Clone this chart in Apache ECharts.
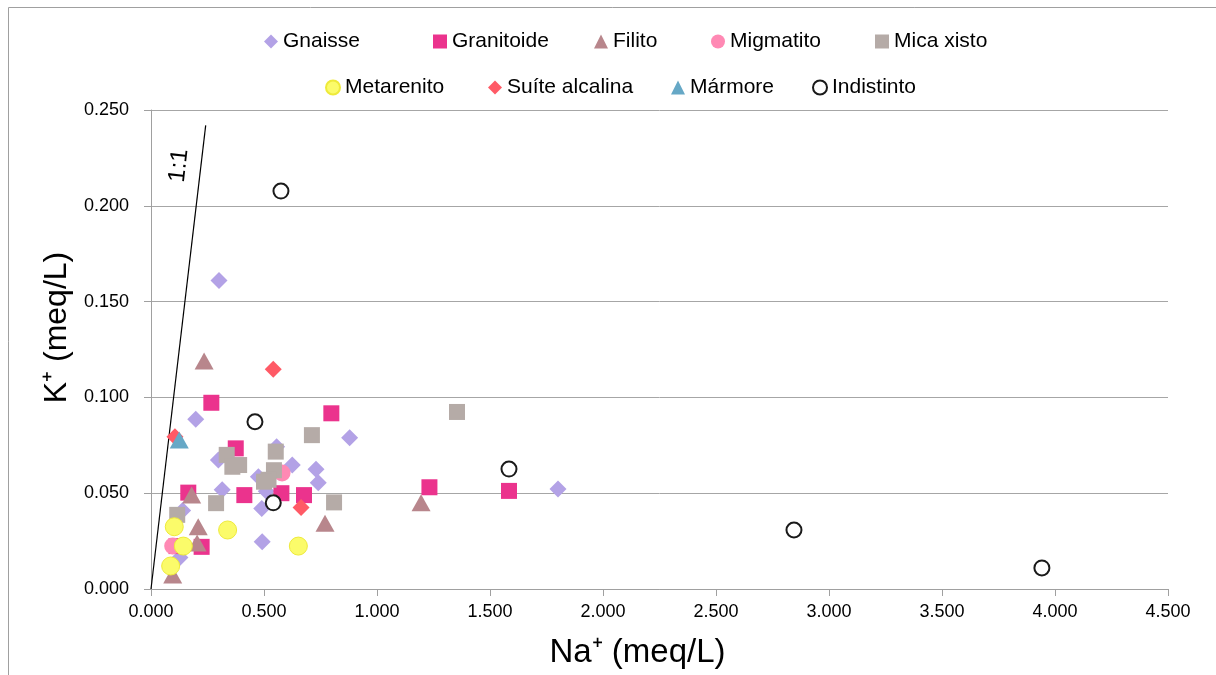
<!DOCTYPE html>
<html>
<head>
<meta charset="utf-8">
<script src="https://cdn.jsdelivr.net/npm/echarts@6/dist/echarts.min.js"></script>
<style>html,body{margin:0;padding:0;background:#fff;}#c{width:1216px;height:675px;}</style>
</head>
<body>
<div id="c"></div>
<script>
// ---- data (Na+ meq/L, K+ meq/L) ----
const seriesNames = ['Gnaisse','Granitoide','Filito','Migmatito','Mica xisto','Metarenito','Suíte alcalina','Mármore','Indistinto'];
const gnaisse = [[0.301,0.161],[0.198,0.0886],[0.879,0.079],[0.556,0.0743],[0.298,0.0673],[0.625,0.0647],[0.730,0.0625],[0.740,0.0555],[0.475,0.0586],[0.315,0.0518],[0.510,0.051],[0.490,0.042],[0.140,0.041],[0.492,0.0247],[0.128,0.0165],[1.801,0.0522]];
const granitoide = [[0.267,0.0972],[0.798,0.0917],[0.375,0.0734],[0.165,0.0503],[0.413,0.049],[0.577,0.050],[0.677,0.049],[0.113,0.0224],[0.224,0.022],[1.232,0.0531],[1.584,0.0512]];
const filito = [[0.235,0.119],[0.180,0.049],[0.209,0.0325],[0.204,0.024],[0.096,0.0073],[0.770,0.0343],[1.195,0.045]];
const migmatito = [[0.096,0.0224],[0.580,0.0606]];
const micaXisto = [[1.354,0.0924],[0.712,0.0803],[0.552,0.0717],[0.335,0.070],[0.390,0.0647],[0.360,0.0638],[0.544,0.062],[0.520,0.057],[0.500,0.056],[0.810,0.0452],[0.288,0.0448],[0.116,0.0387]];
const metarenito = [[0.103,0.0325],[0.339,0.0308],[0.143,0.0224],[0.087,0.012],[0.652,0.0224]];
const suiteAlcalina = [[0.541,0.1147],[0.106,0.0795],[0.664,0.0426]];
const marmore = [[0.125,0.0778]];
const indistinto = [[0.575,0.2077],[0.460,0.0873],[0.541,0.045],[1.584,0.0626],[2.845,0.0308],[3.942,0.011]];
const lineOneToOne = [[0,0],[0.242,0.242]];
const xTicks = {min:0,max:4.5,interval:0.5};
const yTicks = {min:0,max:0.25,interval:0.05};

const FONT = '"Liberation Sans", Arial, sans-serif';
const styles = [
  {data:gnaisse, symbol:'diamond', size:[17,17], color:'#b3a2e6'},
  {data:granitoide, symbol:'rect', size:16, color:'#eb338d'},
  {data:filito, symbol:'triangle', size:[19,17], color:'#b8868c'},
  {data:migmatito, symbol:'circle', size:17, color:'#ff89b4'},
  {data:micaXisto, symbol:'rect', size:16, color:'#b5aba7'},
  {data:metarenito, symbol:'circle', size:18, color:'#fbfb6a', border:'#eeea3a', bw:1},
  {data:suiteAlcalina, symbol:'diamond', size:[17,17], color:'#ff5a66'},
  {data:marmore, symbol:'triangle', size:[19,17], color:'#66a8c6'},
  {data:indistinto, symbol:'circle', size:15, color:'#ffffff', border:'#1a1a1a', bw:2}
];

const series = styles.map((s,i)=>({
  name: seriesNames[i], type:'scatter', data:s.data, symbol:s.symbol, symbolSize:s.size,
  itemStyle:{color:s.color, opacity:1, borderColor:s.border||s.color, borderWidth:s.bw||0},
  z: 3+i, emphasis:{disabled:true}
}));
series.unshift({
  name:'1:1', type:'line', data:lineOneToOne, showSymbol:false, symbol:'none',
  lineStyle:{color:'#000', width:1.2}, z:2, silent:true
});

// legend layout: [text start x, row center y]
const legendPos = [[278,37],[447,37],[608,37],[725,37],[889,37],[339,83],[502,83],[685,83],[826,83]];
const legends = seriesNames.map((n,i)=>({
  data:[n], left: legendPos[i][0]-19, top: legendPos[i][1]-11,
  itemWidth:14, itemHeight:14, itemGap:0, selectedMode:false,
  textStyle:{fontFamily:FONT, fontSize:21, color:'#000'}
}));

const chart = echarts.init(document.getElementById('c'), null, {renderer:'canvas'});
chart.setOption({
  backgroundColor:'#fff',
  animation:false,
  legend: legends,
  grid:{left:151, right:48, top:110, bottom:86, containLabel:false},
  xAxis:{
    type:'value', min:xTicks.min, max:xTicks.max, interval:xTicks.interval,
    name:'Na⁺ (meq/L)', nameLocation:'middle', nameGap:47,
    nameTextStyle:{fontFamily:FONT, fontSize:33, color:'#000', padding:[0,44,0,0]},
    axisLine:{show:true, lineStyle:{color:'#a0a0a0', width:1}},
    axisTick:{show:true, inside:false, length:7, lineStyle:{color:'#a0a0a0'}},
    axisLabel:{fontFamily:FONT, fontSize:18, color:'#000', margin:14, formatter:v=>v.toFixed(3)},
    splitLine:{show:false}
  },
  yAxis:{
    type:'value', min:yTicks.min, max:yTicks.max, interval:yTicks.interval,
    name:'K⁺ (meq/L)', nameLocation:'middle', nameGap:78, nameRotate:90,
    nameTextStyle:{fontFamily:FONT, fontSize:32, color:'#000', padding:[0,0,0,44]},
    axisLine:{show:true, lineStyle:{color:'#a0a0a0', width:1}},
    axisTick:{show:true, inside:false, length:7, lineStyle:{color:'#a0a0a0'}},
    axisLabel:{fontFamily:FONT, fontSize:18, color:'#000', margin:22, formatter:v=>v.toFixed(3)},
    splitLine:{show:true, lineStyle:{color:'#a6a6a6', width:1}}
  },
  series: series
});

const p = chart.convertToPixel({gridIndex:0},[0.124,0.221]);
chart.setOption({
  graphic:[
    {type:'rect', shape:{x:8.5,y:7.5,width:1300,height:800}, style:{fill:'none', stroke:'#a0a0a0', lineWidth:1}, silent:true, z:-1},
    {type:'text', x:p[0], y:p[1], rotation:Math.PI/180*83.6,
     style:{text:'1:1', fontFamily:FONT, fontSize:24, fill:'#000', align:'center', verticalAlign:'middle'}}
  ]
});
</script>
</body>
</html>
